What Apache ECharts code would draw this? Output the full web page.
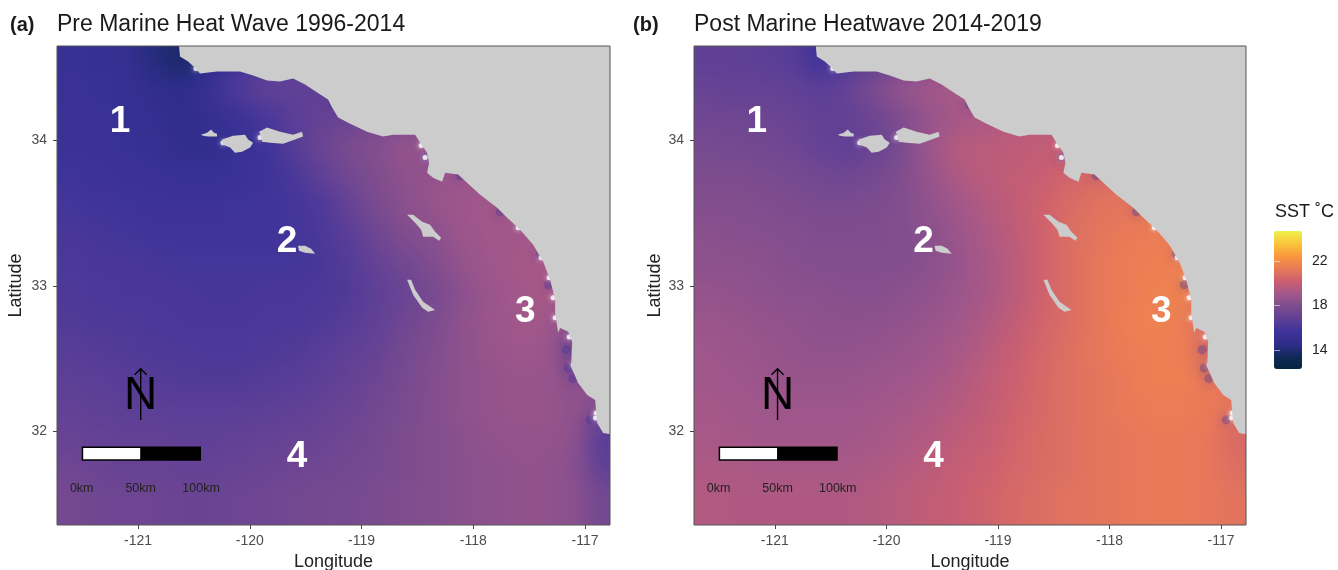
<!DOCTYPE html>
<html><head><meta charset="utf-8">
<script src="https://cdn.jsdelivr.net/npm/echarts@6/dist/echarts.min.js"></script>
<style>html,body{margin:0;padding:0;background:#fff}#c{width:1338px;height:570px}</style>
</head><body><div id="c"></div>
<script>
const lonCenters=[-121.6,-121.35,-121.1,-120.85,-120.6,-120.35,-120.1,-119.85,-119.6,-119.35,-119.1,-118.85,-118.6,-118.35,-118.1,-117.85,-117.6,-117.35,-117.1,-116.85];
const latCenters=[34.55,34.35,34.15,33.95,33.75,33.55,33.35,33.15,32.95,32.75,32.55,32.35,32.15,31.95,31.75,31.55];
const sstPre=[
[15.2,15.1,15.0,14.2,13.7,14.6,15.6,16.4,17,17,17,17,17,17,17,17,17,17,17,17],
[15.3,15.2,15.1,14.7,14.5,15.2,16.3,16.8,16.8,16.8,17,17,17,17,17,17,17,17,17,17],
[15.4,15.3,15.1,14.9,14.6,14.9,15.3,16,16.6,17,17.2,17.5,17.7,18,18,18,18,18,18,18],
[15.4,15.4,15.2,15,14.7,14.7,15.2,15.6,16.4,17.3,17.8,18.2,18.6,18.8,18.8,18.8,18.8,18.8,18.8,18.8],
[15.6,15.5,15.4,15.3,15.2,15.2,15.3,15.6,16,16.8,17.5,18,18.4,18.6,18.8,18.8,18.8,18.8,18.8,18.8],
[15.8,15.7,15.6,15.5,15.5,15.5,15.6,15.7,15.8,16.2,17,17.8,18.3,18.7,18.9,19,19,19,19,19],
[16,15.9,15.8,15.7,15.7,15.7,15.7,15.7,15.8,16.1,16.6,17.4,18,18.3,18.8,19,19,19.1,19.1,19.1],
[16.1,16,16,15.9,15.8,15.8,15.8,15.8,15.8,16,16.4,17,17.5,18,18.6,18.9,19.1,19.2,19.2,19.2],
[16.2,16.1,16,16,16,15.9,15.9,16,16,16.1,16.3,16.8,17.2,17.7,18.3,18.8,19,19.2,19.1,19.1],
[16.3,16.2,16.2,16.1,16,16,16,16.1,16.1,16.2,16.5,16.9,17.4,17.9,18.4,18.8,19,19,18.3,18.3],
[16.5,16.4,16.3,16.2,16.2,16.1,16.1,16.2,16.3,16.5,16.8,17.1,17.6,18,18.4,18.7,18.9,18.8,17.6,17.6],
[16.7,16.6,16.5,16.4,16.3,16.3,16.3,16.4,16.5,16.7,17,17.3,17.7,18.1,18.4,18.6,18.7,18.7,18.3,18.3],
[16.9,16.8,16.7,16.7,16.6,16.6,16.6,16.7,16.8,17,17.2,17.5,17.8,18.1,18.4,18.6,18.7,18.7,18.5,18],
[17.1,17,16.9,16.9,16.8,16.8,16.9,17,17.1,17.2,17.4,17.6,17.9,18.1,18.3,18.5,18.6,18.6,18.4,16.5],
[17.4,17.2,17.1,17.1,17,17,17.1,17.2,17.3,17.4,17.5,17.7,17.9,18.1,18.3,18.4,18.5,18.5,18.3,16.8],
[17.6,17.4,17.3,17.3,17.2,17.2,17.3,17.4,17.5,17.6,17.7,17.8,18,18.1,18.3,18.4,18.5,18.5,18.3,17.5]
];
const sstPost=[
[16.8,16.8,16.7,16.5,15.6,16.2,16.9,17.6,18,18.5,19,19,19,19,19,19,19,19,19,19],
[17.1,17,17,16.9,16.6,17,17.9,18.6,19,19.2,19.4,19.5,19.6,19.6,19.6,19.6,19.6,19.6,19.6,19.6],
[17.4,17.4,17.3,17.2,16.9,16.9,17.3,18,18.7,19.1,19.3,19.5,19.7,19.8,19.8,19.8,19.8,19.8,19.8,19.8],
[17.7,17.6,17.5,17.4,17,16.8,17.2,17.8,18.9,19.6,19.7,19.8,19.9,20.1,20.1,20.1,20.1,20.1,20.1,20.1],
[17.9,17.9,17.8,17.7,17.5,17.4,17.6,18,18.7,19.4,19.7,19.9,20.1,20.4,20.7,20.8,20.8,20.8,20.8,20.8],
[18.1,18.1,18,17.9,17.8,17.8,17.9,18.1,18.5,19,19.5,19.9,20.3,20.7,21,21.1,21.1,21.1,21.1,21.1],
[18.3,18.2,18.2,18.1,18,18,18,18.1,18.3,18.8,19.3,19.8,20.3,20.8,21.1,21.3,21.4,21.4,21.4,21.4],
[18.4,18.4,18.3,18.2,18.1,18.1,18.1,18.1,18.3,18.7,19.2,19.7,20.3,20.8,21.2,21.4,21.5,21.5,21.4,21.4],
[18.6,18.5,18.4,18.3,18.3,18.2,18.2,18.3,18.5,18.8,19.2,19.7,20.3,20.8,21.2,21.4,21.6,21.6,21,21],
[18.8,18.7,18.6,18.5,18.4,18.4,18.4,18.5,18.7,19,19.4,19.9,20.4,20.8,21.2,21.5,21.6,21.5,20.5,20.5],
[18.9,18.8,18.7,18.6,18.5,18.5,18.6,18.7,18.9,19.2,19.6,20.1,20.5,20.9,21.2,21.4,21.5,21.5,20.8,20.8],
[19,18.9,18.8,18.7,18.7,18.7,18.8,18.9,19.1,19.4,19.8,20.2,20.6,20.9,21.1,21.3,21.5,21.5,21.2,21.2],
[19.1,19,18.9,18.9,18.9,18.9,19,19.1,19.3,19.6,19.9,20.3,20.6,20.9,21.1,21.3,21.4,21.4,21.3,21],
[19.2,19.1,19,19,19,19,19.1,19.3,19.5,19.8,20,20.4,20.7,20.9,21.1,21.2,21.3,21.3,21.2,20.6],
[19.3,19.3,19.2,19.2,19.2,19.2,19.3,19.5,19.7,20,20.2,20.5,20.7,20.9,21.1,21.2,21.3,21.3,21.2,20.8],
[19.5,19.4,19.4,19.4,19.4,19.4,19.5,19.7,19.9,20.1,20.3,20.6,20.8,21,21.1,21.2,21.3,21.3,21.2,21]
];
const coast=[[-120.633,34.72],[-120.633,34.650],[-120.624,34.579],[-120.552,34.545],[-120.490,34.503],[-120.445,34.462],[-120.293,34.476],[-120.087,34.476],[-119.970,34.448],[-119.845,34.414],[-119.729,34.407],[-119.612,34.428],[-119.505,34.386],[-119.397,34.331],[-119.299,34.283],[-119.263,34.228],[-119.209,34.159],[-119.102,34.117],[-118.950,34.062],[-118.807,34.028],[-118.717,34.041],[-118.520,34.041],[-118.475,33.986],[-118.413,33.917],[-118.395,33.848],[-118.413,33.779],[-118.359,33.745],[-118.278,33.717],[-118.252,33.779],[-118.135,33.766],[-118.055,33.710],[-117.938,33.628],[-117.786,33.538],[-117.696,33.469],[-117.580,33.386],[-117.464,33.283],[-117.374,33.166],[-117.312,33.041],[-117.267,32.903],[-117.267,32.814],[-117.240,32.676],[-117.222,32.710],[-117.150,32.683],[-117.115,32.614],[-117.124,32.441],[-117.061,32.331],[-116.980,32.248],[-116.909,32.214],[-116.891,32.055],[-116.837,31.986],[-116.783,31.979],[-116.7,31.979],[-116.7,34.72]];
const isleSanMiguel=[[-120.436,34.041],[-120.382,34.055],[-120.346,34.076],[-120.320,34.055],[-120.293,34.048],[-120.293,34.028],[-120.373,34.028],[-120.418,34.034]];
const isleSantaRosa=[[-120.248,34.007],[-120.150,34.034],[-120.042,34.041],[-120.015,34.007],[-119.970,33.986],[-119.997,33.952],[-120.069,33.924],[-120.132,33.917],[-120.176,33.952],[-120.239,33.972]];
const isleSantaCruz=[[-119.917,34.062],[-119.845,34.090],[-119.729,34.062],[-119.612,34.041],[-119.532,34.062],[-119.523,34.028],[-119.594,34.007],[-119.702,33.979],[-119.818,33.986],[-119.890,33.993],[-119.899,34.028]];
const isleSantaBarbara=[[-119.568,33.276],[-119.505,33.276],[-119.451,33.255],[-119.415,33.221],[-119.505,33.228],[-119.559,33.241]];
const isleCatalina=[[-118.592,33.490],[-118.538,33.490],[-118.457,33.441],[-118.386,33.421],[-118.341,33.372],[-118.287,33.331],[-118.305,33.310],[-118.359,33.338],[-118.448,33.338],[-118.466,33.386],[-118.520,33.434]];
const isleSanClemente=[[-118.592,33.041],[-118.556,33.041],[-118.520,32.972],[-118.448,32.890],[-118.341,32.834],[-118.404,32.821],[-118.457,32.848],[-118.538,32.938]];
const lands=[coast,isleSanMiguel,isleSantaRosa,isleSantaCruz,isleSantaBarbara,isleCatalina,isleSanClemente];
const coastWhite=[[-120.481,34.497],[-120.239,33.986],[-119.908,34.021],[-118.466,33.966],[-118.431,33.883],[-117.598,33.400],[-117.392,33.193],[-117.321,33.055],[-117.285,32.917],[-117.267,32.779],[-117.141,32.648],[-117.106,32.455],[-116.900,32.124],[-116.905,32.09]];
const coastBlue=[[-119.254,34.248],[-118.117,33.759],[-117.759,33.510],[-117.401,33.214],[-117.329,33.007],[-117.168,32.559],[-117.150,32.434],[-117.110,32.360],[-116.953,32.076],[-118.431,33.883]];
const regionLabels=[['1',-121.161,34.131],['2',-119.666,33.303],['3',-117.535,32.820],['4',-119.577,31.820]];
const scaleLabels=[['0km',-121.504,31.600],['50km',-120.976,31.600],['100km',-120.436,31.600]];
const scaleWhite=[-121.504,-120.976], scaleBlack=[-120.976,-120.436], scaleLat=[31.892,31.795];
const arrowLon=-120.976, arrowLat=[32.076,32.428], arrowWing=[0.054,0.041], northPos=[-120.976,32.241];
const lonTicks=[-121,-120,-119,-118,-117], latTicks=[32,33,34], legendTicks=[14,18,22];
const lonRange=[-121.725,-116.776], latRange=[31.352,34.652], sstRange=[12.27,24.7];
const palette=['#03263f','#11285a','#2f2d8c','#3f3399','#5f4096','#7d4c8e','#a3578a','#cb5f70','#e97a58','#f9983c','#fbc63c','#eef24a'];
const titles=[['(a)',10,15,20,'bold'],['Pre Marine Heat Wave 1996-2014',57,13,23,'normal'],['(b)',633,15,20,'bold'],['Post Marine Heatwave 2014-2019',694,13,23,'normal'],['SST ˚C',1275,203,18,'normal']];

const FONT='"Liberation Sans",Arial,sans-serif';
const mkX=(i)=>({type:'value',gridIndex:i,min:lonRange[0],max:lonRange[1],zlevel:1,splitLine:{show:false},axisLine:{show:false},
  name:'Longitude',nameLocation:'middle',nameGap:27,nameTextStyle:{fontSize:18,color:'#222',fontFamily:FONT},
  axisTick:{customValues:lonTicks,length:4,lineStyle:{color:'#444',width:1}},
  axisLabel:{customValues:lonTicks,fontSize:14,color:'#4d4d4d',fontFamily:FONT,margin:9}});
const mkY=(i)=>({type:'value',gridIndex:i,min:latRange[0],max:latRange[1],zlevel:1,splitLine:{show:false},axisLine:{show:false},
  name:'Latitude',nameLocation:'middle',nameGap:i?30:32,nameTextStyle:{fontSize:18,color:'#222',fontFamily:FONT},
  axisTick:{customValues:latTicks,length:4,lineStyle:{color:'#444',width:1}},
  axisLabel:{customValues:latTicks,fontSize:14,color:'#4d4d4d',fontFamily:FONT,margin:10}});
const gridBox=(l,w)=>({left:l,width:w,top:46,height:479,show:true,borderColor:'#555',borderWidth:1,backgroundColor:'transparent',zlevel:1,z:5,outerBoundsMode:'none'});

function heat(i,table){
  const data=[];
  table.forEach((row,r)=>row.forEach((v,c)=>data.push([lonCenters[c],latCenters[r],v])));
  return {type:'custom',xAxisIndex:i,yAxisIndex:i,zlevel:0,silent:true,animation:false,clip:false,data,encode:{x:0,y:1},
    renderItem(p,api){
      const lon=api.value(0),lat=api.value(1),s=api.size([0.25,0.2]),o=api.coord([lon,lat]);
      let x0=o[0]-s[0]/2-0.5,x1=o[0]+s[0]/2+0.5,y0=o[1]-s[1]/2-0.5,y1=o[1]+s[1]/2+0.5;
      if(lon===lonCenters[0])x0-=38; if(lon===lonCenters[lonCenters.length-1])x1+=38;
      if(lat===latCenters[0])y0-=38; if(lat===latCenters[latCenters.length-1])y1+=38;
      return {type:'rect',shape:{x:x0,y:y0,width:x1-x0,height:y1-y0},style:{fill:api.visual('color')}};
    }};
}
function spots(i,pts,size,color,op,blur){
  return {type:'scatter',xAxisIndex:i,yAxisIndex:i,zlevel:1,z:2,silent:true,animation:false,data:pts,symbolSize:size,
    itemStyle:{color,opacity:op,shadowBlur:blur,shadowColor:color}};
}
function landSeries(i){
  return {type:'custom',xAxisIndex:i,yAxisIndex:i,zlevel:1,z:3,silent:true,animation:false,clip:true,
    data:lands.map(l=>l[0]),encode:{x:0,y:1},
    renderItem(p,api){
      return {type:'polygon',shape:{points:lands[p.dataIndex].map(q=>api.coord(q))},style:{fill:'#cccccc'}};
    }};
}
function annot(i){
  return {type:'custom',xAxisIndex:i,yAxisIndex:i,zlevel:1,z:4,silent:true,animation:false,clip:false,
    data:[[arrowLon,arrowLat[0]]],encode:{x:0,y:1},
    renderItem(p,api){
      const a=api.coord([scaleWhite[0],scaleLat[0]]),b=api.coord([scaleWhite[1],scaleLat[1]]),c=api.coord([scaleBlack[1],scaleLat[1]]);
      const t0=api.coord([arrowLon,arrowLat[0]]),t1=api.coord([arrowLon,arrowLat[1]]);
      const wl=api.coord([arrowLon-arrowWing[0],arrowLat[1]-arrowWing[1]]),wr=api.coord([arrowLon+arrowWing[0],arrowLat[1]-arrowWing[1]]);
      const n=api.coord(northPos);
      const ln={stroke:'#000',lineWidth:1.4};
      return {type:'group',children:[
        {type:'rect',shape:{x:a[0],y:a[1],width:c[0]-a[0],height:c[1]-a[1]},style:{fill:'#000'}},
        {type:'rect',shape:{x:a[0]+1.5,y:a[1]+1.5,width:b[0]-a[0]-2,height:b[1]-a[1]-3},style:{fill:'#fff'}},
        {type:'text',x:n[0],y:n[1],style:{text:'N',fill:'#000',font:'46px '+FONT,align:'center',verticalAlign:'middle'}},
        {type:'line',shape:{x1:t0[0],y1:t0[1],x2:t1[0],y2:t1[1]},style:ln},
        {type:'polyline',shape:{points:[wl,t1,wr]},style:{stroke:'#000',lineWidth:1.4,fill:'none'}}
      ]};
    }};
}
function labels(i,items,font,color,weight){
  return {type:'scatter',xAxisIndex:i,yAxisIndex:i,zlevel:1,z:6,silent:true,animation:false,symbolSize:0,
    itemStyle:{opacity:1},
    data:items.map(t=>({value:[t[1],t[2]],label:{formatter:t[0]}})),
    label:{show:true,position:'inside',fontSize:font,fontWeight:weight,color,opacity:1,fontFamily:FONT}};
}
const option={
  animation:false,backgroundColor:'transparent',
  title:titles.map(t=>({text:t[0],left:t[1],top:t[2],zlevel:1,padding:0,textStyle:{fontSize:t[3],fontWeight:t[4],color:'#1a1a1a',fontFamily:FONT}})),
  grid:[gridBox(57,553),gridBox(694,552),{left:1274,width:28,top:231,height:138,show:false,zlevel:1,outerBoundsMode:'none'}],
  xAxis:[mkX(0),mkX(1),{type:'value',gridIndex:2,show:false,zlevel:1}],
  yAxis:[mkY(0),mkY(1),
    {type:'value',gridIndex:2,position:'right',min:sstRange[0],max:sstRange[1],zlevel:1,z:10,splitLine:{show:false},axisLine:{show:false},
     axisTick:{customValues:legendTicks,inside:true,length:6,lineStyle:{color:'rgba(255,255,255,.55)',width:1}},
     axisLabel:{customValues:legendTicks,fontSize:14,color:'#222',fontFamily:FONT,margin:10}},
    {type:'value',gridIndex:2,position:'left',min:sstRange[0],max:sstRange[1],zlevel:1,z:10,splitLine:{show:false},axisLine:{show:false},
     axisTick:{customValues:legendTicks,inside:true,length:6,lineStyle:{color:'rgba(255,255,255,.55)',width:1}},
     axisLabel:{show:false}}],
  visualMap:{type:'continuous',seriesIndex:[0,1],dimension:2,min:sstRange[0],max:sstRange[1],calculable:false,realtime:false,
    left:1274,top:231,itemWidth:28,itemHeight:138,text:['',''],showLabel:false,padding:0,hoverLink:false,zlevel:1,z:4,
    inRange:{color:palette}},
  series:[heat(0,sstPre),heat(1,sstPost),
    spots(0,coastBlue,9,'#3a3296',.3,10),spots(1,coastBlue,9,'#3a3296',.3,10),
    spots(0,coastWhite,5,'#ffffff',.8,5),spots(1,coastWhite,5,'#ffffff',.8,5),
    landSeries(0),landSeries(1),annot(0),annot(1),
    labels(0,regionLabels,37,'#fff','bold'),labels(1,regionLabels,37,'#fff','bold'),
    labels(0,scaleLabels,12.5,'#222','normal'),labels(1,scaleLabels,12.5,'#222','normal')]
};
const chart=echarts.init(document.getElementById('c'),null,{renderer:'canvas'});
chart.setOption(option);
function soften(){
  const cv=chart.getDom().querySelector('canvas[data-zr-dom-id="zr_0"]');
  if(cv){cv.style.filter='blur(11px)';cv.style.clipPath="path('M57 46H610V525H57Z M694 46H1246V525H694Z')";}
}
soften();setTimeout(soften,0);chart.on('finished',soften);
</script></body></html>
